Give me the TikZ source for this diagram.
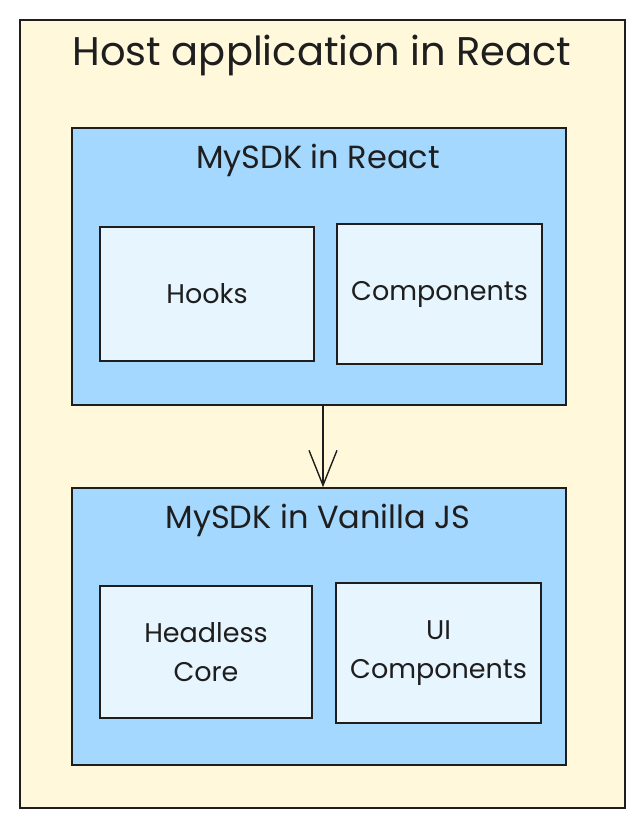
\documentclass[tikz,border=0pt]{standalone}
\usepackage{fontspec}
\setmainfont{Poppins}
\usepackage{xcolor}
\usepackage{tikz}
\usetikzlibrary{arrows.meta, calc}
\definecolor{hostYellow}{HTML}{FFF8DB}
\definecolor{sdkBlue}{HTML}{A5D8FF}
\definecolor{partBlue}{HTML}{E7F5FF}
\definecolor{inkBlack}{HTML}{1E1E1E}
\tikzset{
	box/.style={draw=inkBlack, line width=1.6pt, inner sep=0pt},
	hostbox/.style={box, fill=hostYellow, minimum width=605pt, minimum height=788pt},
	sdkbox/.style={box, fill=sdkBlue, minimum width=494pt, minimum height=277pt},
	partbox/.style={box, fill=partBlue, align=center, text=inkBlack, font=\fontsize{27}{39}\selectfont},
	boxtitle/.style={text=inkBlack, inner sep=0pt}
}
\def\scale{1}

\begin{document}
\begin{tikzpicture}[x=\scale pt, y=-\scale pt, line cap = round]
	\useasboundingbox (0,0) rectangle (643,829);
	% outer host frame
	\node[hostbox] (host) at (322.5,414) {};
	\node[boxtitle, font=\fontsize{40}{46}\selectfont] (hostTitle) at (322,55) {Host application in React};

	% react layer
	\node[sdkbox] (react) at (319,266.5) {};
	\node[boxtitle, font=\fontsize{32}{36}\selectfont] (reactTitle) at (318,160) {MySDK in React};
	\node[partbox, minimum width=214pt, minimum height=134pt] (hooks) at (207,294) {Hooks};
	\node[partbox, minimum width=205pt, minimum height=140pt] (components) at (439.5,294) {Components};

	% vanilla layer
	\node[sdkbox] (vanilla) at (319,626.5) {};
	\node[boxtitle, font=\fontsize{32}{36}\selectfont] (vanillaTitle) at (318,520) {MySDK in Vanilla JS};
	\node[partbox, minimum width=212pt, minimum height=132pt] (core) at (206,652) {Headless\\Core};
	\node[partbox, minimum width=205pt, minimum height=140pt] (ui) at (438.5,653) {UI\\Components};

	\draw[inkBlack, line width=1.4pt, -{Straight Barb[length=35pt, width=28pt, line width=1.4pt]}] ($(react.south)+(4,0)$) -- ($(vanilla.north)+(4,0)$);

\end{tikzpicture}
\end{document}
